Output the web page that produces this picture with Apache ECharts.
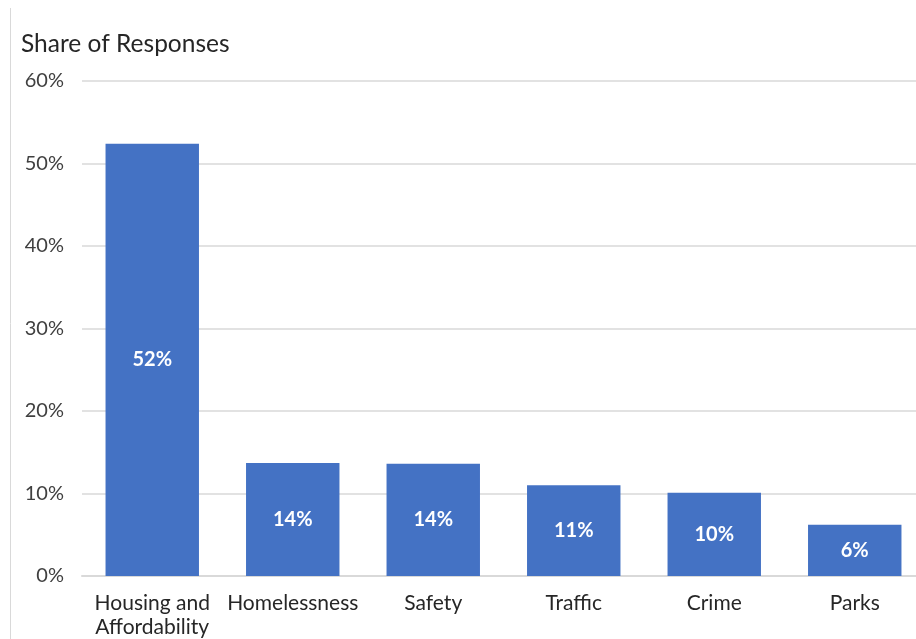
<!DOCTYPE html>
<html><head><meta charset="utf-8">
<script src="https://cdn.jsdelivr.net/npm/echarts@6/dist/echarts.min.js"></script>
<style>html,body{margin:0;padding:0;background:#fff}#c{width:916px;height:639px}</style>
</head><body><div id="c"></div>
<script>
const categories = ['Housing and\nAffordability', 'Homelessness', 'Safety', 'Traffic', 'Crime', 'Parks'];
const shares = [52.4, 13.7, 13.6, 11.0, 10.1, 6.2];
const valueLabels = ['52%', '14%', '14%', '11%', '10%', '6%'];
const yTicks = [0, 10, 20, 30, 40, 50, 60];
const FONT = 'Lato, "DejaVu Sans", sans-serif';
const chart = echarts.init(document.getElementById('c'));
chart.setOption({
  animation: false,
  title: { text: 'Share of Responses', left: 16, top: 27,
    textStyle: { fontFamily: FONT, fontWeight: 'normal', fontSize: 24.5, color: '#262626' } },
  grid: { left: 82, top: 81, width: 843, bottom: 63, containLabel: false, outerBoundsMode: 'none' },
  graphic: [{ type: 'line', shape: { x1: 10.5, y1: 8, x2: 10.5, y2: 639 }, style: { stroke: '#d9d9d9', lineWidth: 1 } }],
  xAxis: { type: 'category', data: categories,
    axisLine: { lineStyle: { color: '#d9d9d9', width: 2 } }, axisTick: { show: false },
    axisLabel: { fontFamily: FONT, fontSize: 21, color: '#262626', lineHeight: 24, margin: 15, interval: 0 } },
  yAxis: { type: 'value', min: 0, max: 60, interval: 10,
    axisLabel: { fontFamily: FONT, fontSize: 20, color: '#404040', margin: 18,
      formatter: v => yTicks.includes(v) ? v + '%' : '' },
    splitLine: { lineStyle: { color: '#d9d9d9', width: 1.5 } }, axisLine: { show: false }, axisTick: { show: false } },
  series: [{ type: 'bar', data: shares, barWidth: '66.5%',
    itemStyle: { color: '#4472c4' },
    label: { show: true, position: 'inside', color: '#fff', fontFamily: FONT, fontWeight: 'bold', fontSize: 20,
      formatter: p => valueLabels[p.dataIndex] } }]
});
</script></body></html>
